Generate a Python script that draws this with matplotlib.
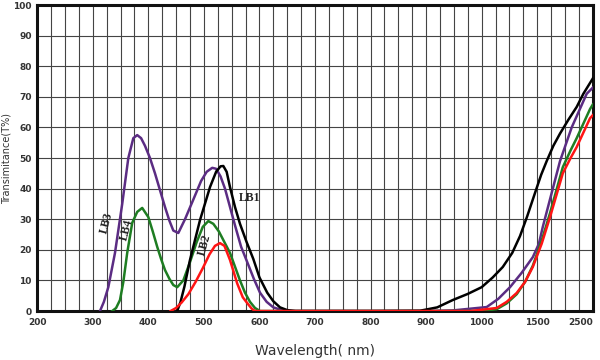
import numpy as np
import matplotlib
matplotlib.use("Agg")
import matplotlib.pyplot as plt

# wavelength axis is squeezed above 1000 nm
knots_wl = [200, 1000, 1500, 2500]
knots_pos = [200, 1000, 1100, 1200]

def fwd(w):
    return np.interp(w, knots_wl, knots_pos)

def inv(p):
    return np.interp(p, knots_pos, knots_wl)

# LB1 (black)
lb1_wl = [452, 458, 465, 475, 493, 511, 522, 530, 535, 541, 547, 556, 565, 577, 589, 600, 614, 625, 637,
          650, 665, 800, 889, 920, 948, 975, 1000, 1100, 1190, 1275, 1345, 1410, 1480, 1570, 1670,
          1790, 1910, 2060, 2210, 2330, 2500]
lb1_t = [0, 3, 8, 16.7, 29.7, 40.5, 45.5, 47.3, 47.4, 45.5, 40.5, 34, 28.5, 22.5, 17, 11, 6, 3.2, 1.2,
         0.3, 0, 0, 0.1, 1.2, 3.6, 5.6, 7.8, 11, 14.4, 19, 24.5, 31, 38.6, 44.5, 49,
         54, 58, 62.5, 66.7, 71, 76]

# LB2 (red)
lb2_wl = [440, 450, 460, 472, 485, 498, 510, 520, 529, 537, 547, 560, 570, 578, 586, 592, 800, 980,
          1135, 1225, 1315, 1390, 1460, 1580, 1730, 1960, 2100, 2210, 2450, 2500]
lb2_t = [0, 1, 2.8, 5.5, 9.5, 14, 18.5, 21.3, 22.2, 21.3, 16.7, 9, 4.5, 2.6, 0.8, 0, 0, 0,
         1, 3, 5.9, 9.5, 14.4, 22, 30.7, 45, 50, 53.6, 63, 64]

# LB3 (purple)
lb3_wl = [313, 320, 328, 340, 353, 364, 373, 380, 387, 394, 403, 412, 421, 430, 438, 445, 454, 466,
          480, 495, 505, 515, 522, 530, 538, 547, 556, 567, 578, 590, 601, 613, 625, 642, 660, 900, 948,
          1045, 1150, 1255, 1360, 1460, 1530, 1600, 1760, 1910, 2120, 2390, 2500]
lb3_t = [0, 3, 7.8, 19, 35, 50, 56.5, 57.5, 56.5, 54, 50, 45, 39.5, 34, 29.5, 26.3, 25.5, 30,
         36, 42.5, 45.5, 46.8, 46.5, 44, 40, 34, 28, 21, 16, 10.5, 6, 3, 1.2, 0.2, 0, 0, 0.2,
         1.3, 4, 7.8, 12.5, 17.6, 22, 27.5, 38.6, 49, 60, 71, 73]

# LB4 (green)
lb4_wl = [335, 342, 349, 355, 362, 371, 380, 389, 400, 408, 416, 423, 430, 438, 445, 452, 463,
          475, 487, 498, 508, 517, 527, 537, 547, 556, 565, 574, 583, 592, 601, 800, 1000,
          1135, 1225, 1315, 1390, 1460, 1580, 1730, 1960, 2100, 2210, 2450, 2500]
lb4_t = [0, 1, 3.6, 9.5, 19, 28.8, 32.4, 33.7, 30.7, 26, 21, 17, 13.4, 10.5, 8.5, 7.8, 10,
         16, 22.5, 27.5, 29.4, 28.5, 26, 22.5, 19, 14.5, 10, 6, 3, 1, 0, 0, 0,
         0.6, 2.5, 5.5, 9.5, 14.8, 23, 32, 47, 52.5, 56.5, 66, 67.5]

xticks = [200, 300, 400, 500, 600, 700, 800, 900, 1000, 1500, 2500]
yticks = list(range(0, 101, 10))

fig = plt.figure(figsize=(6, 3.6), dpi=100)
ax = fig.add_axes([0.062, 0.136, 0.926, 0.850])
ax.set_xscale('function', functions=(fwd, inv))

ax.plot(lb3_wl, lb3_t, color='#5b2c83', lw=1.8, zorder=3)
ax.plot(lb4_wl, lb4_t, color='#1e7d22', lw=1.8, zorder=3)
ax.plot(lb1_wl, lb1_t, color='black', lw=1.8, zorder=4)
ax.plot(lb2_wl, lb2_t, color='#ff1414', lw=1.8, zorder=5)

lab = dict(fontsize=8.5, fontweight='bold', family='Liberation Serif', color='#222222', zorder=6)
ax.text(326, 28.8, 'LB3', rotation=75, ha='center', va='center', **lab)
ax.text(362, 26.5, 'LB4', rotation=75, ha='center', va='center', **lab)
ax.text(502, 21.6, 'LB2', rotation=75, ha='center', va='center', **lab)
ax.text(583, 37, 'LB1', ha='center', va='center', **lab)

ax.set_xlim(200, 2500)
ax.set_ylim(0, 100)
ax.set_xticks(xticks)
ax.set_xticklabels([str(v) for v in xticks])
ax.set_xticks(inv(np.arange(200, 1201, 25)), minor=True)
ax.set_yticks(yticks)
ax.tick_params(which='both', length=0, labelsize=6.5, labelcolor='#333333')
ax.tick_params(axis='x', pad=5)
ax.tick_params(axis='y', pad=4)
for t in ax.get_xticklabels() + ax.get_yticklabels():
    t.set_fontweight('bold')
ax.get_xticklabels()[-1].set_horizontalalignment('right')
ax.grid(which='both', color='#444444', lw=0.8)
ax.set_axisbelow(True)
for s in ax.spines.values():
    s.set_linewidth(2.2)
    s.set_color('#111111')

ax.set_xlabel('Wavelength( nm)', fontsize=10, color='#333333', labelpad=12)
ax.set_ylabel('Transimitance(T%)', fontsize=7, color='#333333')
ax.yaxis.set_label_coords(-0.047, 0.5)

fig.savefig('out.png', dpi=100)
